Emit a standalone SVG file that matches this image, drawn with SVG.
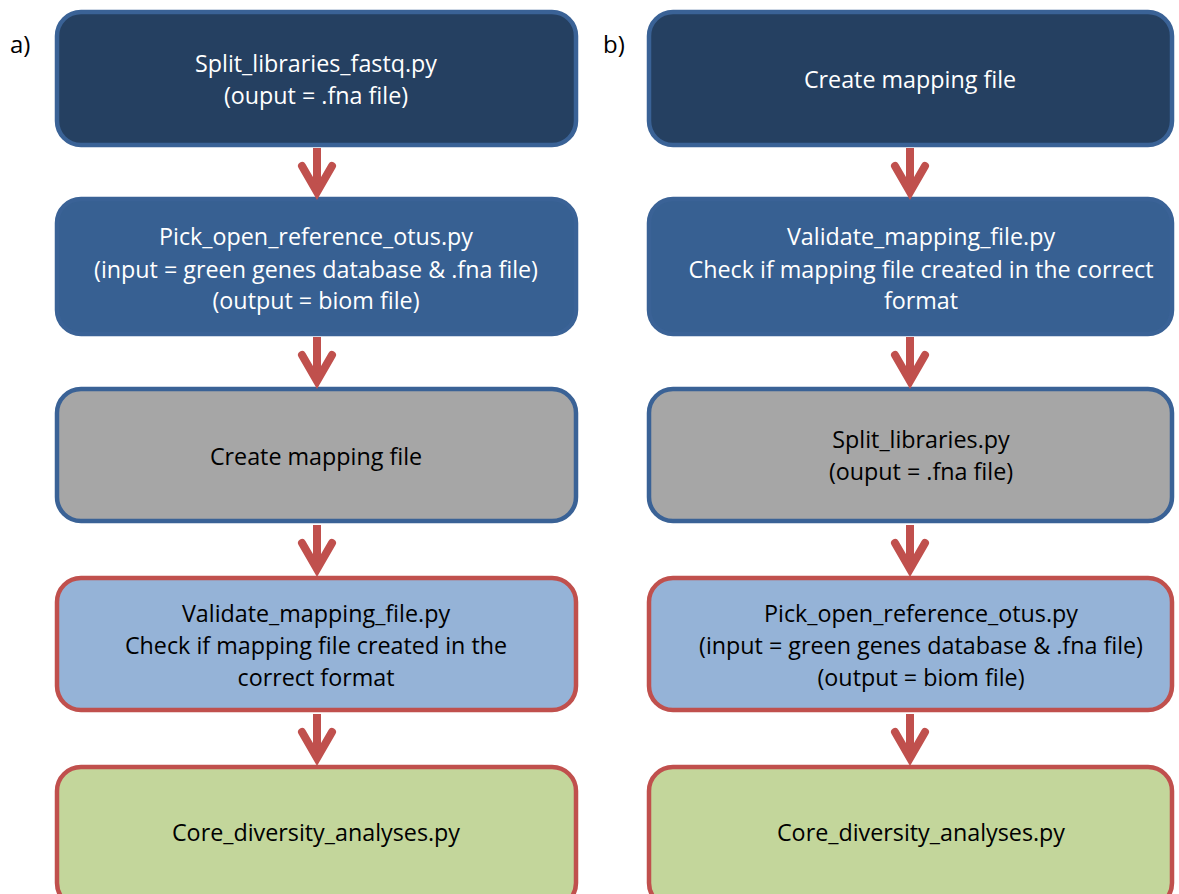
<svg xmlns="http://www.w3.org/2000/svg" width="1179" height="894" viewBox="0 0 1179 894">
<defs>
<style>
.t{font-family:"Open Sans","Lato","Liberation Sans",sans-serif;font-size:23.3px;text-anchor:middle}
.w{fill:#ffffff}
.k{fill:#000000}
.lbl{font-family:"Open Sans","Lato","Liberation Sans",sans-serif;font-size:24px;fill:#000}
.n1{fill:#254061;stroke:#3A6296;stroke-width:4.5}
.n2{fill:#376092;stroke:#3A6296;stroke-width:4.5}
.n3{fill:#A6A6A6;stroke:#3A6296;stroke-width:4.5}
.n4{fill:#95B3D7;stroke:#C0504D;stroke-width:4.5}
.n5{fill:#C3D69B;stroke:#C0504D;stroke-width:4.5}
.ar{fill:none;stroke:#C0504D;stroke-width:8;stroke-linecap:round;stroke-linejoin:miter}
.sh{fill:none;stroke:#C0504D;stroke-width:8}
</style>
</defs>
<rect width="1179" height="894" fill="#ffffff"/>
<text class="lbl" x="10" y="53">a)</text>
<text class="lbl" x="603" y="53">b)</text>

<g id="a1"><rect class="n1" x="57" y="12" width="519" height="133" rx="24"/>
<text class="t w" x="316" y="72">Split_libraries_fastq.py</text>
<text class="t w" x="316" y="104">(ouput = .fna file)</text></g>
<g id="a2"><rect class="n2" x="57" y="199" width="519" height="135" rx="24"/>
<text class="t w" x="316" y="245">Pick_open_reference_otus.py</text>
<text class="t w" x="316" y="278">(input = green genes database &amp; .fna file)</text>
<text class="t w" x="316" y="309">(output = biom file)</text></g>
<g id="a3"><rect class="n3" x="57" y="389" width="519" height="132" rx="24"/>
<text class="t k" x="316" y="465">Create mapping file</text></g>
<g id="a4"><rect class="n4" x="57" y="578" width="519" height="132" rx="24"/>
<text class="t k" x="316" y="622">Validate_mapping_file.py</text>
<text class="t k" x="316" y="654">Check if mapping file created in the</text>
<text class="t k" x="316" y="686">correct format</text></g>
<g id="a5"><rect class="n5" x="57" y="767" width="519" height="140" rx="24"/>
<text class="t k" x="316" y="841">Core_diversity_analyses.py</text></g>

<g id="b1"><rect class="n1" x="649" y="12" width="523" height="133" rx="24"/>
<text class="t w" x="910" y="88">Create mapping file</text></g>
<g id="b2"><rect class="n2" x="649" y="199" width="523" height="135" rx="24"/>
<text class="t w" x="921" y="245">Validate_mapping_file.py</text>
<text class="t w" x="921" y="278">Check if mapping file created in the correct</text>
<text class="t w" x="921" y="309">format</text></g>
<g id="b3"><rect class="n3" x="649" y="389" width="523" height="132" rx="24"/>
<text class="t k" x="921" y="448">Split_libraries.py</text>
<text class="t k" x="921" y="480">(ouput = .fna file)</text></g>
<g id="b4"><rect class="n4" x="649" y="578" width="523" height="132" rx="24"/>
<text class="t k" x="921" y="622">Pick_open_reference_otus.py</text>
<text class="t k" x="921" y="654">(input = green genes database &amp; .fna file)</text>
<text class="t k" x="921" y="686">(output = biom file)</text></g>
<g id="b5"><rect class="n5" x="649" y="767" width="523" height="140" rx="24"/>
<text class="t k" x="921" y="841">Core_diversity_analyses.py</text></g>

<g id="connectors">
<path class="sh" d="M317 148V192 M317 337V381 M317 525V569 M317 714V758"/>
<path class="ar" d="M302 166L317 192L332 166 M302 355L317 381L332 355 M302 543L317 569L332 543 M302 732L317 758L332 732"/>
<path class="sh" d="M910 148V192 M910 337V381 M910 525V569 M910 714V758"/>
<path class="ar" d="M895 166L910 192L925 166 M895 355L910 381L925 355 M895 543L910 569L925 543 M895 732L910 758L925 732"/>
</g>
</svg>
